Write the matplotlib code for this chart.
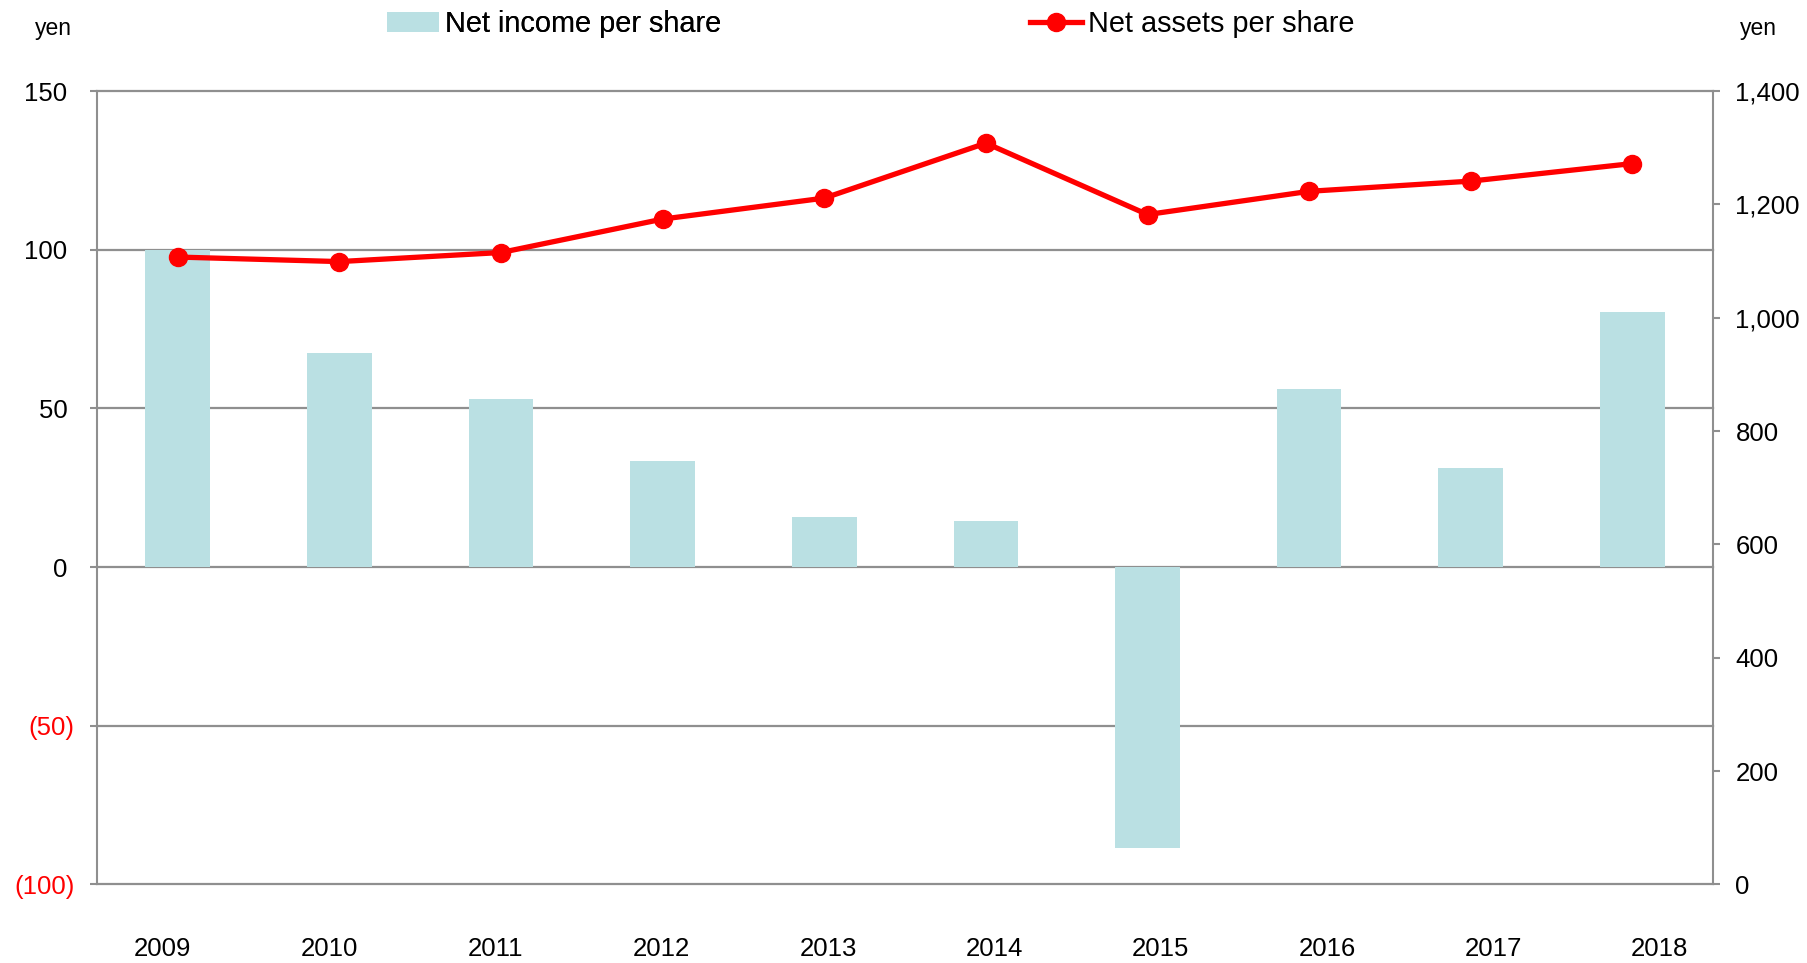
import numpy as np
import matplotlib
matplotlib.use('Agg')
import matplotlib.pyplot as plt
from matplotlib.patches import Patch
from matplotlib.lines import Line2D

plt.rcParams['font.family'] = ['Liberation Sans', 'DejaVu Sans']

# データ
years = ['2009', '2010', '2011', '2012', '2013', '2014', '2015', '2016', '2017', '2018']
net_income = [100.0, 67.3, 53.1, 33.5, 15.7, 14.6, -88.5, 56.1, 31.3, 80.4]
net_assets = [1107, 1099, 1115, 1174, 1211, 1308, 1182, 1223, 1241, 1272]
left_ticks = [-100, -50, 0, 50, 100, 150]
right_ticks = [0, 200, 400, 600, 800, 1000, 1200, 1400]

BAR_COLOR = '#bae0e3'
LINE_COLOR = '#ff0000'
GRID_COLOR = '#8f8f8f'

fig = plt.figure(figsize=(18.08, 9.63), dpi=100)
ax = fig.add_axes([0.0536, 0.0816, 0.894, 0.8239])
x = np.arange(len(years))

# 棒グラフ (左軸)
ax.bar(x, net_income, width=0.4, color=BAR_COLOR, zorder=3)
ax.set_xlim(-0.5, len(years) - 0.5)
ax.set_ylim(-100, 150)
ax.set_yticks(left_ticks)
ax.set_yticklabels([f'({abs(v)})' if v < 0 else f'{v} ' for v in left_ticks])
for lbl, v in zip(ax.get_yticklabels(), left_ticks):
    lbl.set_color('red' if v < 0 else 'black')
ax.yaxis.grid(True, color=GRID_COLOR, linewidth=1.6)
for gl in ax.get_ygridlines():
    gl.set_clip_on(False)
ax.set_axisbelow(True)
ax.tick_params(axis='y', length=5, width=1.5, color=GRID_COLOR, pad=11, labelsize=18.5)
ax.tick_params(axis='x', length=0, labelbottom=False)
for s in ['top', 'bottom']:
    ax.spines[s].set_visible(False)
for s in ['left', 'right']:
    ax.spines[s].set_color(GRID_COLOR)
    ax.spines[s].set_linewidth(1.5)

# 折れ線 (右軸)
ax2 = ax.twinx()
ax2.plot(x, net_assets, color=LINE_COLOR, linewidth=3.8, marker='o', markersize=13, zorder=5)
ax2.set_ylim(0, 1400)
ax2.set_yticks(right_ticks)
ax2.set_yticklabels([f'{v:,}' for v in right_ticks])
ax2.tick_params(axis='y', length=5, width=1.5, color=GRID_COLOR, pad=11, labelsize=18.5)
for s in ax2.spines.values():
    s.set_visible(False)

# 年ラベル (Excel風にずれた位置)
ax3 = ax.twiny()
ax3.set_xlim(-0.3966, 9.3215)
ax3.xaxis.set_ticks_position('bottom')
ax3.set_xticks(x)
ax3.set_xticklabels(years)
ax3.tick_params(axis='x', length=0, pad=38, labelsize=18.5)
ax3.tick_params(axis='y', which='both', left=False, right=False,
                labelleft=False, labelright=False)
for s in ax3.spines.values():
    s.set_visible(False)

# 単位
fig.text(53 / 1808, 1 - 29 / 963, 'yen', ha='center', va='center', fontsize=16.5)
fig.text(1758 / 1808, 1 - 29 / 963, 'yen', ha='center', va='center', fontsize=16.5)

# 凡例
leg1 = fig.legend(handles=[Patch(facecolor=BAR_COLOR)], labels=['Net income per share'],
                  loc='center left', bbox_to_anchor=(387 / 1808, 1 - 24 / 963),
                  frameon=False, fontsize=20.8, handlelength=1.8, handletextpad=0.2,
                  borderpad=0, borderaxespad=0)
leg2 = fig.legend(handles=[Line2D([], [], color=LINE_COLOR, linewidth=3.8, marker='o', markersize=13)],
                  labels=['Net assets per share'],
                  loc='center left', bbox_to_anchor=(1030 / 1808, 1 - 24 / 963),
                  frameon=False, fontsize=20.8, handlelength=1.8, handletextpad=0.2,
                  borderpad=0, borderaxespad=0)
fig.add_artist(leg1)

plt.savefig('out.png', dpi=100)
